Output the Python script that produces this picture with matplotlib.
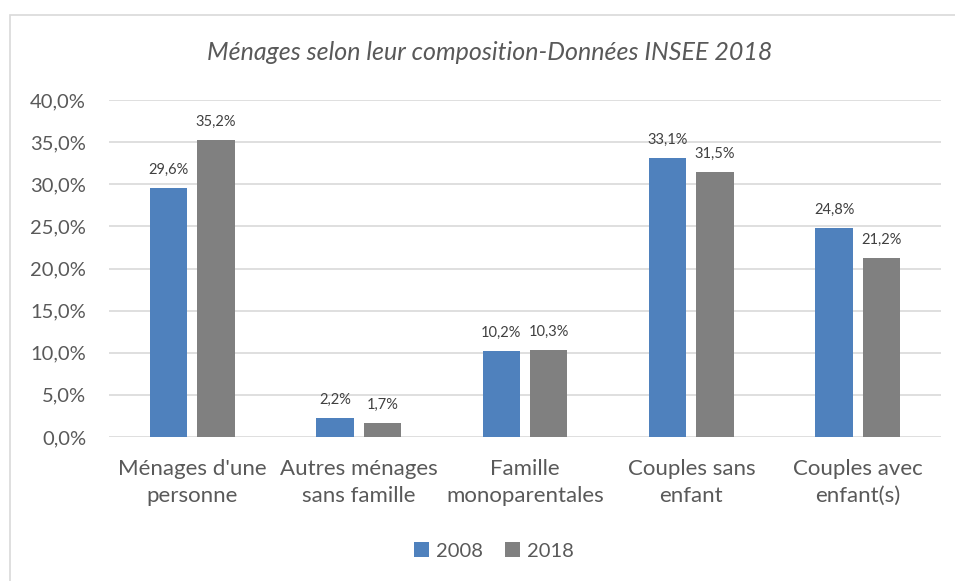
import matplotlib.pyplot as plt
import numpy as np
from matplotlib.patches import Rectangle

categories = ["Ménages d'une\npersonne", "Autres ménages\nsans famille", "Famille\nmonoparentales",
              "Couples sans\nenfant", "Couples avec\nenfant(s)"]
v2008 = [29.6, 2.2, 10.2, 33.1, 24.8]
v2018 = [35.2, 1.7, 10.3, 31.5, 21.2]
yticks = [0, 5, 10, 15, 20, 25, 30, 35, 40]

plt.rcParams['font.family'] = ['Lato', 'DejaVu Sans']
txt = "#595959"

fig = plt.figure(figsize=(9.55, 5.81), dpi=100)
ax = fig.add_axes([109 / 955, 1 - 437 / 581, 832 / 955, 337 / 581])

# chart frame
fig.patches.append(Rectangle((9.5 / 955, -0.1), 1.2, 1 - 14.5 / 581 + 0.1, transform=fig.transFigure,
                             fill=False, edgecolor="#d9d9d9", linewidth=1.2))

x = np.arange(len(categories))
w = 0.225
gap = 0.06
b1 = ax.bar(x - (w + gap) / 2, v2008, w, color="#4f81bd", label="2008", zorder=3)
b2 = ax.bar(x + (w + gap) / 2, v2018, w, color="#808080", label="2018", zorder=3)

for bars, vals in ((b1, v2008), (b2, v2018)):
    for b, v in zip(bars, vals):
        ax.annotate(("%.1f%%" % v).replace(".", ","), (b.get_x() + b.get_width() / 2, v),
                    xytext=(0, 8), textcoords="offset points", ha="center", va="bottom",
                    fontsize=10.5, color="#404040")

ax.set_xlim(-0.5, len(categories) - 0.5)
ax.set_ylim(0, 40)
ax.set_yticks(yticks)
ax.set_yticklabels([("%.1f%%" % t).replace(".", ",") for t in yticks], fontsize=14.5, color=txt)
ax.set_xticks(x)
ax.set_xticklabels(categories, fontsize=16, color=txt, linespacing=1.4)
ax.tick_params(axis="y", length=0, pad=16.5)
ax.tick_params(axis="x", length=0, pad=16)
ax.grid(axis="y", color="#d9d9d9", linewidth=1.2, zorder=0)
for s in ax.spines.values():
    s.set_visible(False)

fig.text(490 / 955, 1 - 53 / 581, "Ménages selon leur composition-Données INSEE 2018",
         ha="center", va="center", fontsize=18, style="italic", color=txt)

fig.legend(loc="center", bbox_to_anchor=(494 / 955, 1 - 551 / 581), ncol=2, frameon=False,
           fontsize=14.5, labelcolor=txt, handlelength=0.75, handleheight=0.75, handletextpad=0.35,
           columnspacing=1.1)

fig.savefig("out.png", dpi=100)
